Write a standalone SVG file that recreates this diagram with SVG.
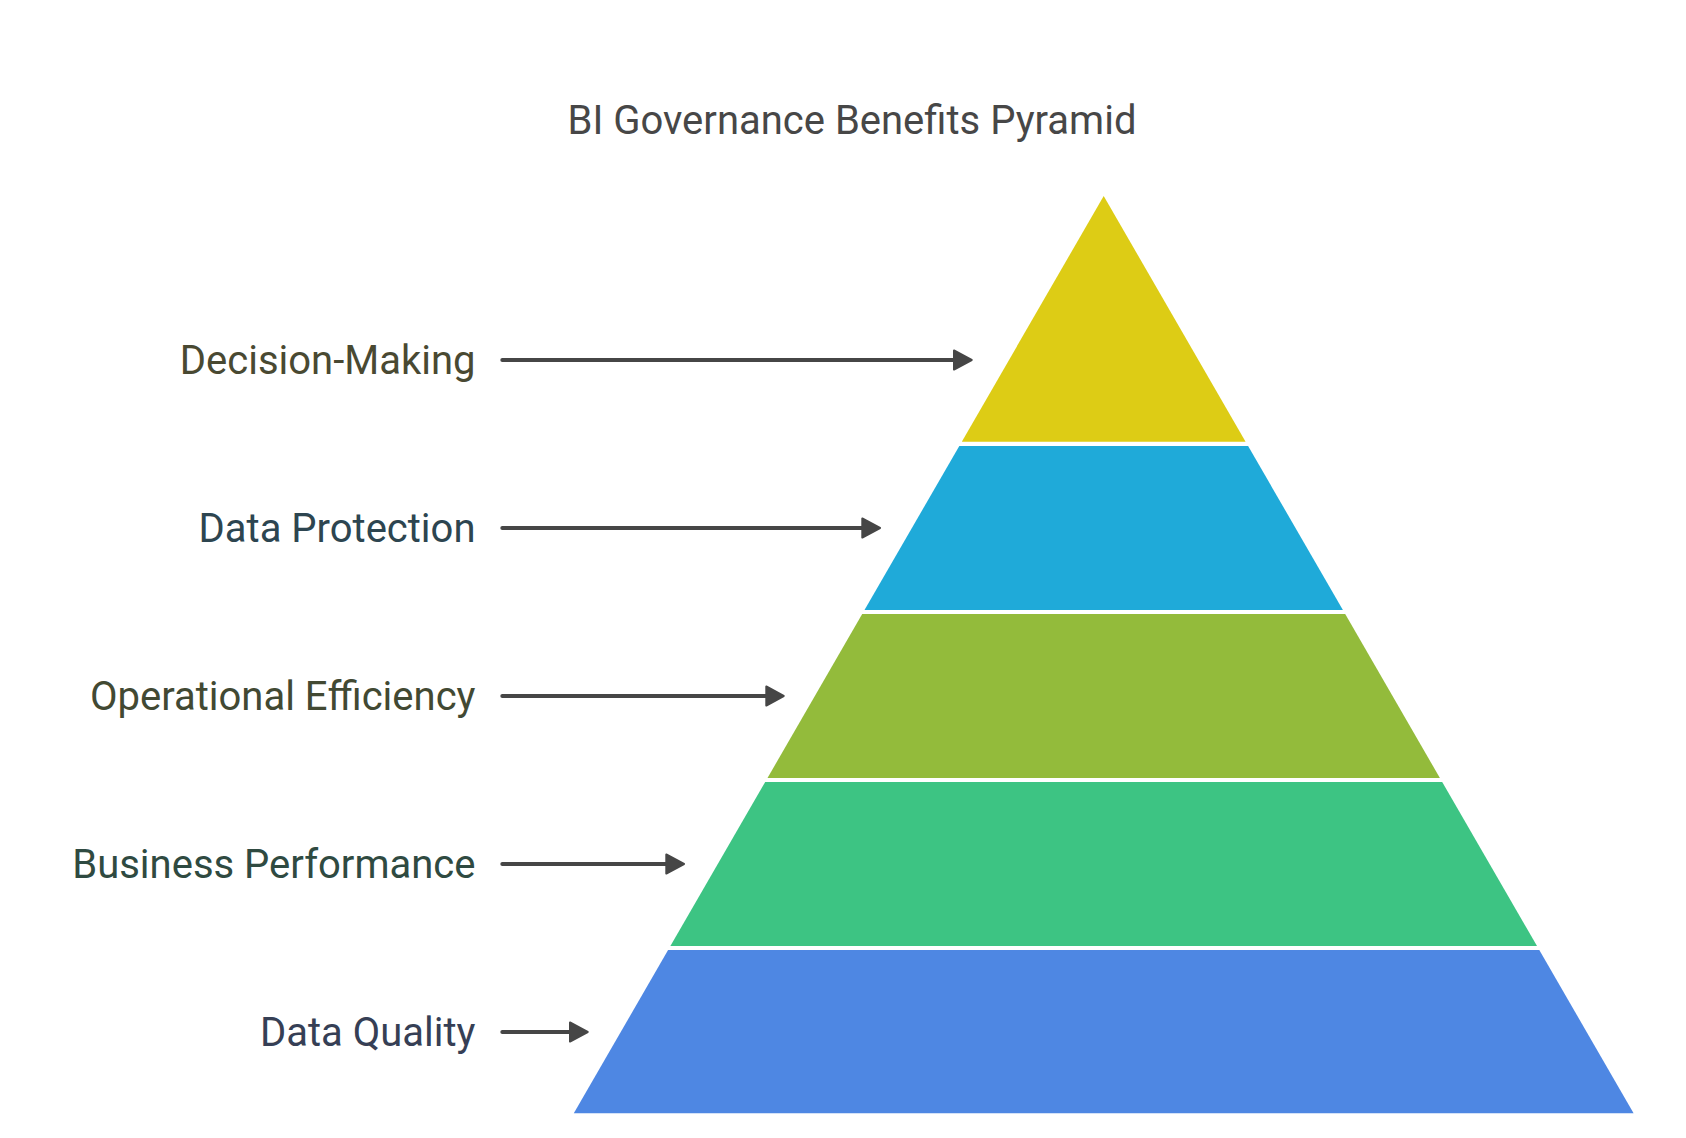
<svg xmlns="http://www.w3.org/2000/svg" width="1686" height="1138" viewBox="0 0 1686 1138">
  <style>
    .title { font-family: Roboto, "Liberation Sans", sans-serif; font-size: 40px; fill: #474747; text-anchor: middle; }
    .label { font-family: Roboto, "Liberation Sans", sans-serif; font-size: 40px; text-anchor: end; }
    .conn { stroke: #464646; stroke-width: 4; stroke-linecap: round; fill: none; }
    .head { fill: #464646; stroke: #464646; stroke-width: 2; stroke-linejoin: round; }
  </style>
  <rect width="1686" height="1138" fill="#ffffff"/>
  <text class="title" x="852" y="134">BI Governance Benefits Pyramid</text>

  <g id="layer-decision-making">
    <polygon points="1103.7,196 1245.6,441.7 961.8,441.7" fill="#DDCC15"/>
    <text class="label" x="475.5" y="374" fill="#494932">Decision-Making</text>
  </g>
  <g id="layer-data-protection">
    <polygon points="959.3,446 1248.1,446 1342.9,610 864.5,610" fill="#1FAAD9"/>
    <text class="label" x="475.5" y="542" fill="#2D4550">Data Protection</text>
  </g>
  <g id="layer-operational-efficiency">
    <polygon points="862.2,614 1345.2,614 1439.9,778 767.5,778" fill="#93BB3B"/>
    <text class="label" x="475.5" y="710" fill="#424933">Operational Efficiency</text>
  </g>
  <g id="layer-business-performance">
    <polygon points="765.2,782 1442.2,782 1537.0,946 670.4,946" fill="#3DC483"/>
    <text class="label" x="475.5" y="878" fill="#2F4A41">Business Performance</text>
  </g>
  <g id="layer-data-quality">
    <polygon points="668.1,950 1539.3,950 1633.6,1113.3 573.8,1113.3" fill="#4E87E3"/>
    <text class="label" x="475.5" y="1046" fill="#363F55">Data Quality</text>
  </g>

  <g id="connectors">
    <line class="conn" x1="502.3" y1="360" x2="955" y2="360"/>
    <path class="head" d="M954,350.5 L971.7,360 L954,369.5 Z"/>
    <line class="conn" x1="502.3" y1="528" x2="863" y2="528"/>
    <path class="head" d="M862.3,518.5 L880,528 L862.3,537.5 Z"/>
    <line class="conn" x1="502.3" y1="696" x2="767" y2="696"/>
    <path class="head" d="M766.3,686.5 L783.7,696 L766.3,705.5 Z"/>
    <line class="conn" x1="502.3" y1="864" x2="667" y2="864"/>
    <path class="head" d="M666.3,854.5 L684,864 L666.3,873.5 Z"/>
    <line class="conn" x1="502.3" y1="1032" x2="571" y2="1032"/>
    <path class="head" d="M570,1022.5 L587.7,1032 L570,1041.5 Z"/>
  </g>
</svg>
